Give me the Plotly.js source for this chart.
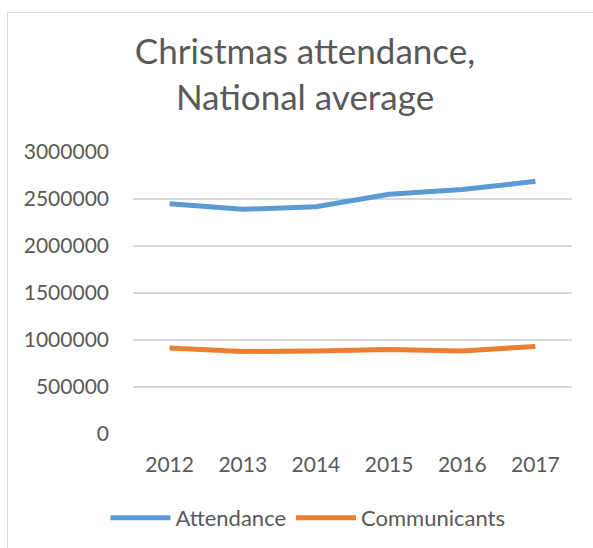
<!DOCTYPE html>
<html>
<head>
<meta charset="utf-8">
<script src="https://cdn.plot.ly/plotly-3.0.1.min.js"></script>
<style>
html,body{margin:0;padding:0;background:#fff;}
#wrap{position:relative;width:593px;height:548px;overflow:hidden;}
#chart{position:absolute;left:0;top:0;width:593px;height:548px;}
#border{position:absolute;left:7px;top:12px;width:620px;height:580px;border:1px solid #d9d9d9;pointer-events:none;}
</style>
</head>
<body>
<div id="wrap"><div id="chart"></div><div id="border"></div></div>
<script>
var years = ['2012','2013','2014','2015','2016','2017'];
var attendance = [2450000, 2390000, 2418000, 2550000, 2600000, 2688000];
var communicants = [915000, 878000, 884000, 898000, 883000, 932000];
var yTicks = [0, 500000, 1000000, 1500000, 2000000, 2500000, 3000000];

var font = 'Lato, "Open Sans", sans-serif';
var grey = '#595959';

var traces = [
  {x: years, y: attendance, name: 'Attendance', type: 'scatter', mode: 'lines',
   line: {color: '#5b9bd5', width: 5, shape: 'linear'}},
  {x: years, y: communicants, name: 'Communicants', type: 'scatter', mode: 'lines',
   line: {color: '#ed7d31', width: 5, shape: 'linear'}}
];

var layout = {
  width: 593, height: 548,
  margin: {l: 133, r: 21, t: 152, b: 114},
  paper_bgcolor: 'rgba(0,0,0,0)', plot_bgcolor: '#fff',
  font: {family: font, color: grey, size: 20},
  title: {
    text: 'Christmas attendance,<br>National average',
    font: {family: font, size: 35, color: grey},
    xref: 'container', x: 305/593, xanchor: 'center',
    yref: 'container', y: 1 - 64/548, yanchor: 'top'
  },
  xaxis: {
    type: 'category', range: [-0.5, 5.5], showgrid: false, zeroline: false,
    showline: false, ticks: '', tickfont: {family: font, size: 21, color: grey},
    ticklabelstandoff: 16
  },
  yaxis: {
    range: [0, 3000000], tickvals: yTicks, tickformat: 'd',
    showgrid: true, gridcolor: '#d9d9d9', gridwidth: 1.3,
    zeroline: false, showline: false, ticks: '',
    tickfont: {family: font, size: 21, color: grey},
    ticklabelstandoff: 23
  },
  showlegend: true,
  legend: {
    orientation: 'h', xref: 'container', yref: 'container',
    x: 308/593, xanchor: 'center', y: 1 - 518/548, yanchor: 'middle',
    font: {family: font, size: 22, color: grey},
    itemwidth: 60
  },
  hovermode: false
};

Plotly.newPlot('chart', traces, layout, {displayModeBar: false, staticPlot: true});
</script>
</body>
</html>
